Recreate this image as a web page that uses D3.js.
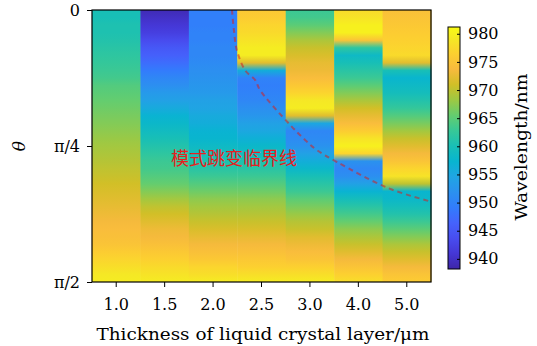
<!DOCTYPE html>
<html>
<head>
<meta charset="utf-8">
<script src="https://cdn.jsdelivr.net/npm/d3@7"></script>
<style>
  body { margin: 0; background: #fff; }
  svg text { font-family: "DejaVu Serif", "Liberation Serif", serif; }
</style>
</head>
<body>
<svg id="chart" width="537" height="346"></svg>
<script>
// liquid crystal thickness (µm), one column each
const thickness = ["1.0", "1.5", "2.0", "2.5", "3.0", "4.0", "5.0"];
// incidence angle samples, degrees (0 .. 90 = 0 .. π/2)
const theta = d3.range(0, 90.1, 2.5);
// peak wavelength (nm) per column at each theta sample
const wl10 = [960,960,960.5,960.5,961,961.5,962,962.5,963,963.5,964.5,965,965.5,966,966.5,967,967.5,968,968.5,969,969.5,970,970.5,971,971.5,972,972.5,973,973.5,974,974.5,975,976,977,978,979,979.5];
const wl15 = [939,940,941,942,943.5,945,946,947.5,949,950.5,951.5,953,954,955.5,957,958,959,960,961,962,963,963.5,964.5,965.5,967,968.5,970,971,972,973,973.5,974.5,975.5,976.5,977.5,978.5,979.5];
const wl20 = [949.5,949.5,949.5,950,950,950.5,950.5,951,951.5,952,952.5,953,954,954.5,955.5,956,957,957.5,958.5,959.5,960.5,961.5,963,964.5,966,967.5,968.5,969.5,970.5,971.5,972.5,973.5,974.5,975.5,977,978,979.5];
const wl25 = [975.5,976,977,977.5,978.5,979.5,979.5,972,956,950,949.5,950,950.5,951.5,952.5,954,955,956.5,958,959,960.5,961.5,963,964.5,966,967.5,968.5,969.5,970.5,971.5,972.5,973.5,974.5,975.5,976.5,978,979.5];
const wl30 = [963,963.5,965,967,969,970.5,971.5,972.5,973,974,975.5,977,979,979.5,972,955,950.5,951,952,954,956,958,960,961.5,963,965,966.5,968,969.5,970.5,972,973,974,975,976.5,978,979.5];
const wl40 = [977.5,978.5,980,980,975,962,958.5,960,961.5,963,965,967,969,971,972.5,974,976,978.5,980,977,952,950.5,951.5,954,957,959.5,961.5,963.5,965.5,967.5,969,970.5,972,973.5,975,976.5,978];
const wl50 = [974.5,975,975.5,976,976.5,977,977.5,972,960,957.5,958.5,959.5,961,962.5,964.5,966.5,968.5,970.5,972,973.5,975,977,978.5,970,957.5,958,959.5,961,963,965,967,969,970.5,972,973.5,975,976];
const wavelength = [wl10, wl15, wl20, wl25, wl30, wl40, wl50];

// mode-jump critical line: fractional column index, theta (deg)
const critCol = [2.39, 2.43, 2.49, 2.66, 2.87, 2.97, 3.59, 3.90, 4.14, 4.56, 5.61, 6.52];
const critTheta = [0, 6.6, 13.2, 19.9, 23.2, 26.5, 38, 43, 46.3, 50.3, 58.9, 63.5];

const yTickVals = [0, 45, 90];
const yTickLabels = ["0", "π/4", "π/2"];
const cbTicks = [940, 945, 950, 955, 960, 965, 970, 975, 980];
const cbDomain = [938.2, 981.2];

// parula colormap (sampled every 4th of 64)
const parula = [
  [0.2422,0.1504,0.6603],[0.2706,0.2147,0.8364],[0.2813,0.3006,0.9414],[0.2699,0.3892,0.9906],
  [0.1963,0.4847,0.9892],[0.1687,0.5703,0.9359],[0.1248,0.6459,0.8883],[0.0297,0.7082,0.8163],
  [0.0964,0.7500,0.7120],[0.2161,0.7843,0.5923],[0.3909,0.8029,0.4354],[0.6174,0.7876,0.2612],
  [0.8203,0.7498,0.1535],[0.9728,0.7298,0.2394],[0.9892,0.8136,0.1885],[0.9597,0.9135,0.1423],
  [0.9769,0.9839,0.0805]
];
const parulaPos = [0,4,8,12,16,20,24,28,32,36,40,44,48,52,56,60,63].map(i => i / 63);
const color = d3.scaleLinear()
  .domain(parulaPos.map(p => cbDomain[0] + p * (cbDomain[1] - cbDomain[0])))
  .range(parula.map(c => d3.rgb(c[0]*255, c[1]*255, c[2]*255)))
  .clamp(true);

const svg = d3.select("#chart");
const defs = svg.append("defs");
const pL = 92, pR = 431, pT = 10, pB = 282;

const x = d3.scaleBand().domain(thickness).range([pL, pR]).padding(0);
const y = d3.scaleLinear().domain([0, 90]).range([pT, pB]);
const xc = d3.scaleLinear().domain([0, thickness.length - 1])
  .range([x(thickness[0]) + x.bandwidth() / 2, x(thickness[thickness.length - 1]) + x.bandwidth() / 2]);

// columns with vertical gradients
thickness.forEach((t, i) => {
  const g = defs.append("linearGradient").attr("id", "col" + i)
    .attr("x1", 0).attr("y1", 0).attr("x2", 0).attr("y2", 1);
  g.selectAll("stop").data(theta).enter().append("stop")
    .attr("offset", d => d / 90)
    .attr("stop-color", (d, k) => color(wavelength[i][k]));
});
svg.append("g").selectAll("rect").data(thickness).enter().append("rect")
  .attr("x", d => x(d))
  .attr("y", pT)
  .attr("width", x.bandwidth() + 0.5)
  .attr("height", pB - pT)
  .attr("fill", (d, i) => "url(#col" + i + ")");

// critical line
const line = d3.line()
  .x((d, i) => xc(critCol[i]))
  .y(d => y(d))
  .curve(d3.curveCatmullRom);
svg.append("path")
  .attr("d", line(critTheta))
  .attr("fill", "none")
  .attr("stroke", "#d42020")
  .attr("stroke-opacity", 0.55)
  .attr("stroke-width", 2)
  .attr("stroke-dasharray", "5,4");

svg.append("text")
  .attr("x", 234).attr("y", 157)
  .attr("text-anchor", "middle")
  .attr("dominant-baseline", "central")
  .style("font-family", "'Noto Sans CJK SC'")
  .style("font-size", "18px")
  .attr("fill", "#e62020")
  .text("模式跳变临界线");

// frame
svg.append("rect")
  .attr("x", pL).attr("y", pT)
  .attr("width", pR - pL).attr("height", pB - pT)
  .attr("fill", "none").attr("stroke", "#000").attr("stroke-width", 1.2);

// axes
const xAxis = svg.append("g")
  .attr("transform", "translate(0," + pB + ")")
  .call(d3.axisBottom(x).tickSizeOuter(0).tickSize(5).tickPadding(12));
xAxis.select(".domain").remove();
xAxis.selectAll("text").style("font-size", "16px").attr("fill", "#000")
  .style("font-family", "'DejaVu Serif', serif");

const yAxis = svg.append("g")
  .attr("transform", "translate(" + pL + ",0)")
  .call(d3.axisLeft(y).tickValues(yTickVals).tickFormat((d, i) => yTickLabels[i]).tickSizeOuter(0).tickSize(5).tickPadding(7));
yAxis.select(".domain").remove();
yAxis.selectAll("text").style("font-size", "16px").attr("fill", "#000")
  .style("font-family", "'DejaVu Serif', serif");

svg.append("text")
  .attr("x", 263).attr("y", 340)
  .attr("text-anchor", "middle")
  .attr("textLength", 333)
  .attr("lengthAdjust", "spacingAndGlyphs")
  .style("font-size", "16px")
  .text("Thickness of liquid crystal layer/μm");

svg.append("text")
  .attr("transform", "translate(25,146) rotate(-90)")
  .attr("text-anchor", "middle")
  .style("font-size", "17px")
  .style("font-style", "italic")
  .text("θ");

// colorbar
const cbX = 448, cbW = 12, cbTop = 27, cbBot = 269;
const cy = d3.scaleLinear().domain(cbDomain).range([cbBot, cbTop]);
const cg = defs.append("linearGradient").attr("id", "cbar")
  .attr("x1", 0).attr("y1", 1).attr("x2", 0).attr("y2", 0);
cg.selectAll("stop").data(parula).enter().append("stop")
  .attr("offset", (d, i) => parulaPos[i])
  .attr("stop-color", d => d3.rgb(d[0]*255, d[1]*255, d[2]*255));
svg.append("rect")
  .attr("x", cbX).attr("y", cbTop).attr("width", cbW).attr("height", cbBot - cbTop)
  .attr("fill", "url(#cbar)").attr("stroke", "#000").attr("stroke-width", 1);
const cbAxis = svg.append("g")
  .attr("transform", "translate(" + (cbX + cbW) + ",0)")
  .call(d3.axisRight(cy).tickValues(cbTicks).tickSize(-3).tickPadding(8).tickSizeOuter(0));
cbAxis.select(".domain").remove();
cbAxis.selectAll("text").style("font-size", "16px").attr("fill", "#000")
  .style("font-family", "'DejaVu Serif', serif");

svg.append("text")
  .attr("transform", "translate(527,147) rotate(-90)")
  .attr("text-anchor", "middle")
  .attr("textLength", 147)
  .attr("lengthAdjust", "spacingAndGlyphs")
  .style("font-size", "16px")
  .text("Wavelength/nm");
</script>
</body>
</html>
